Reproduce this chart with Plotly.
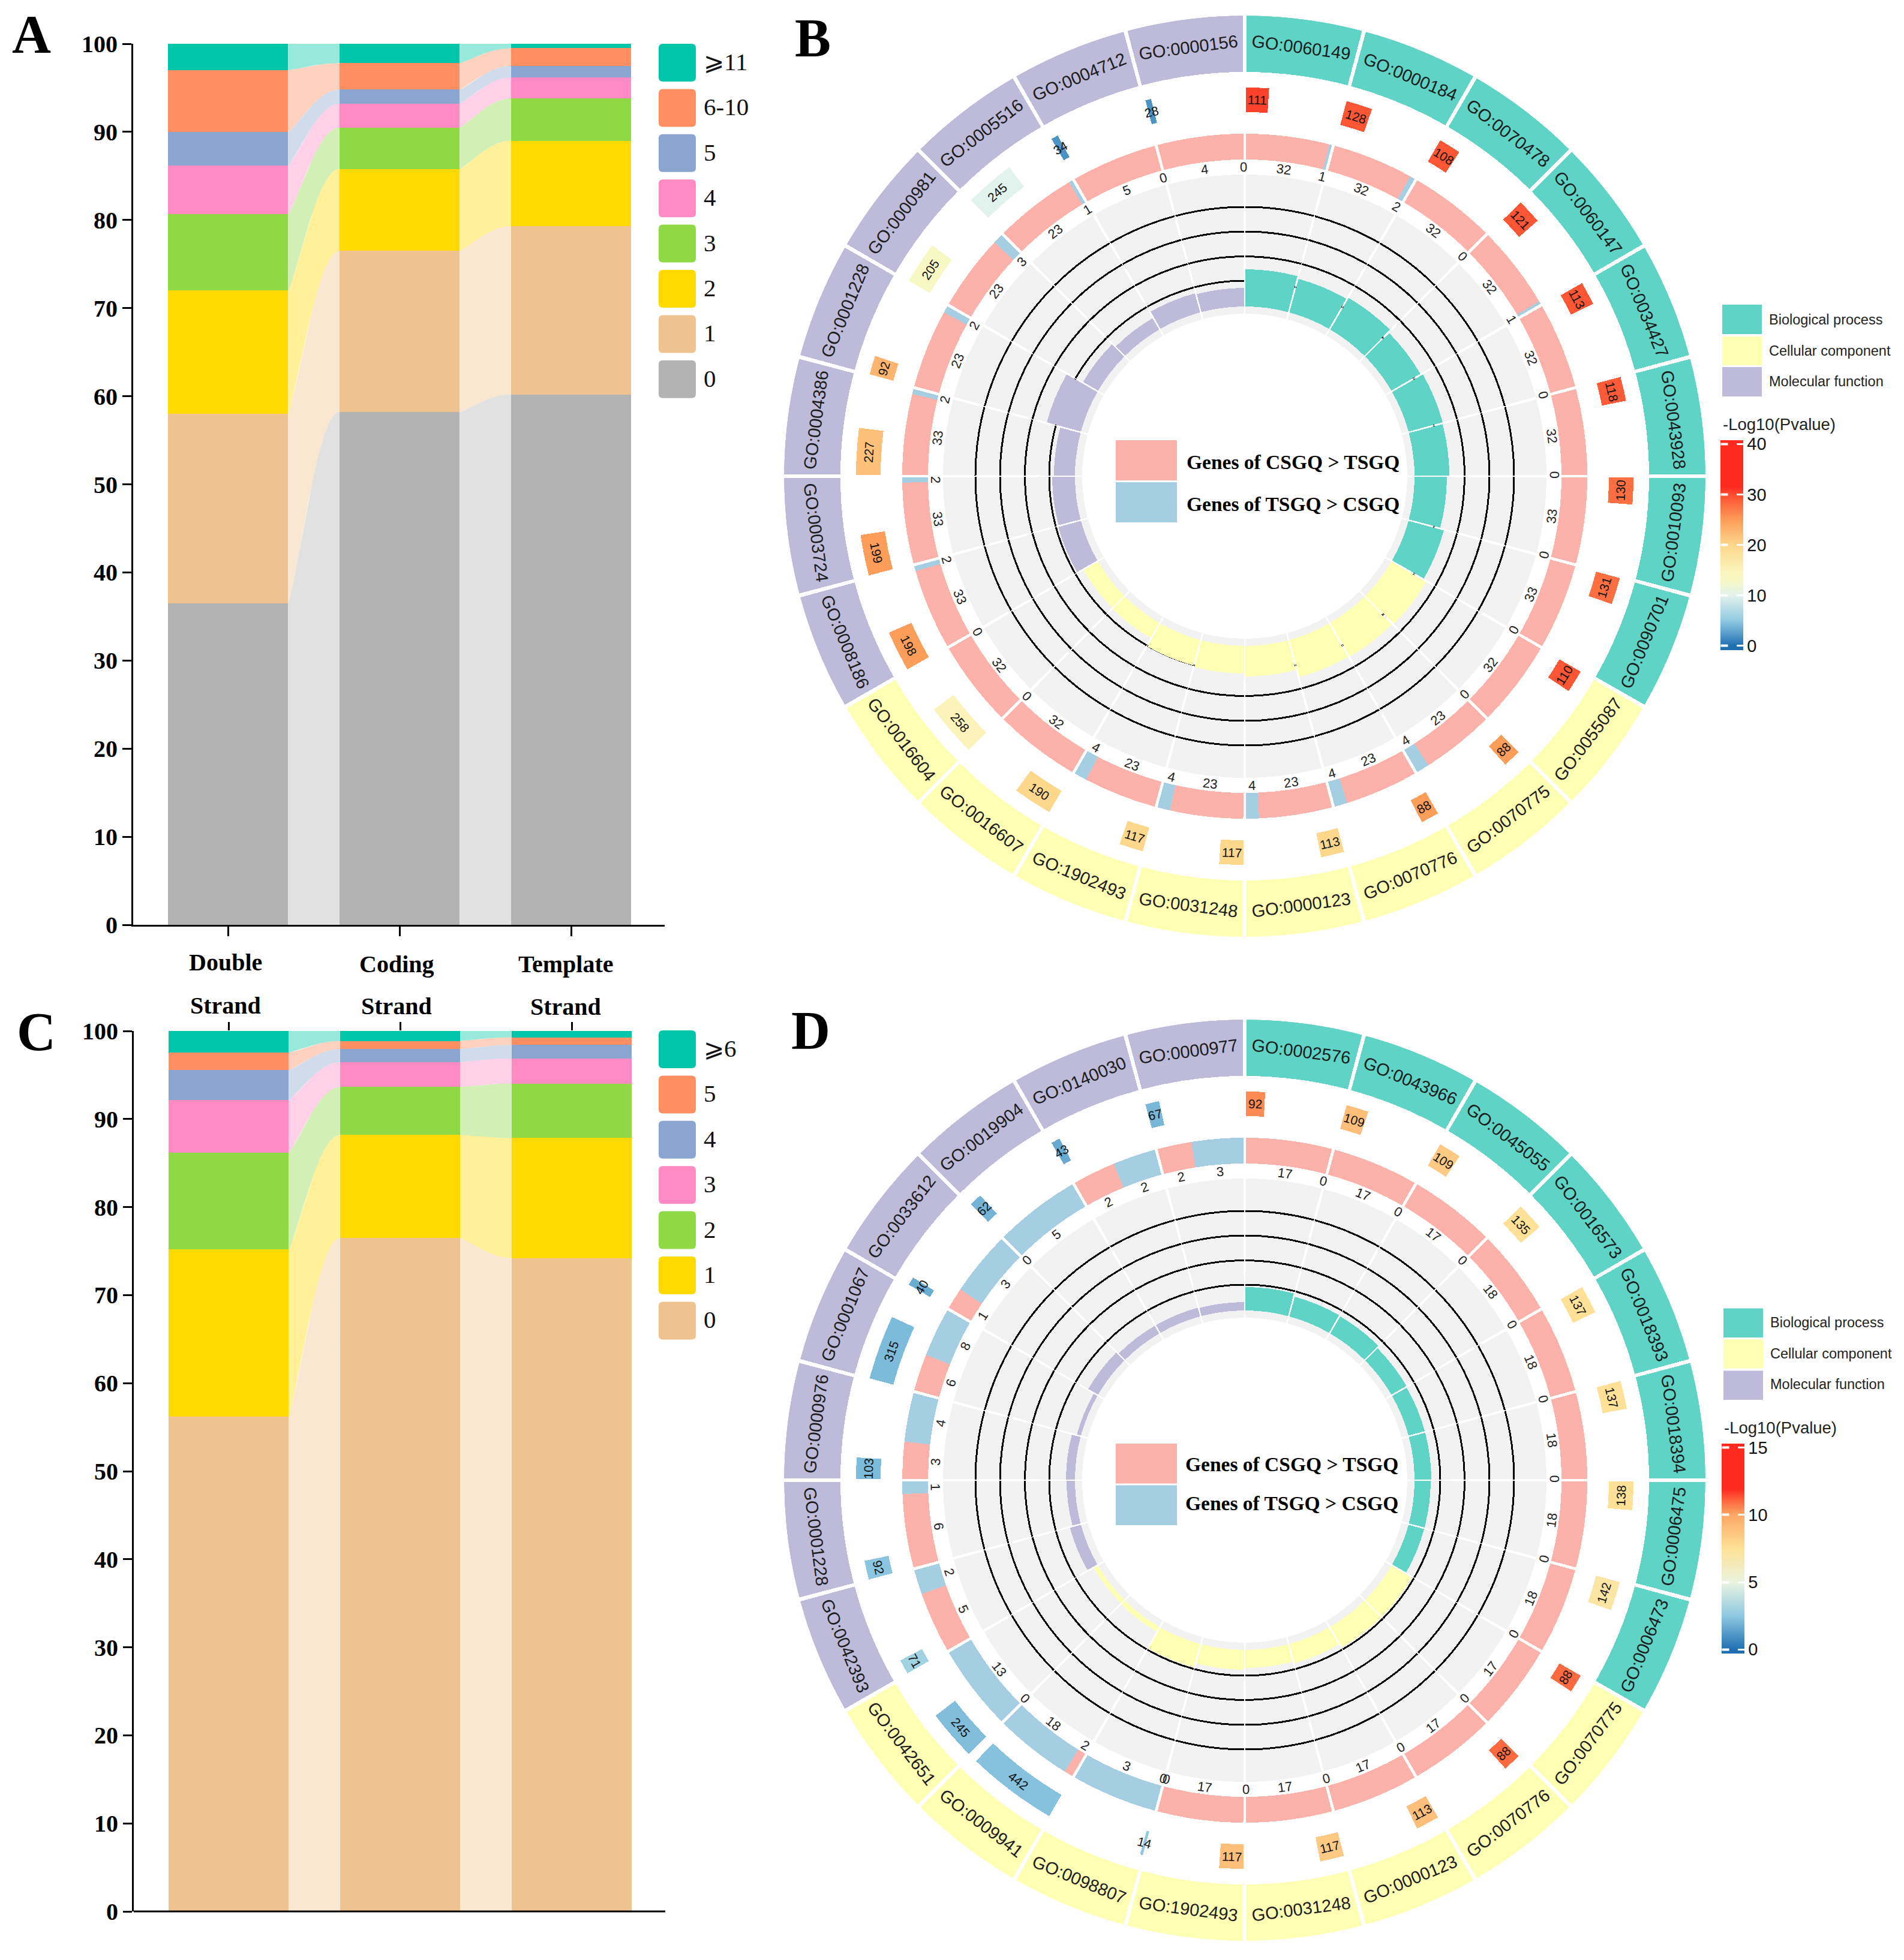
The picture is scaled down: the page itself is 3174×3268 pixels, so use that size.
import math
import numpy as np
import plotly.graph_objects as go

W, H = 3174, 3268
SERIF = "Liberation Serif"
SANS = "Liberation Sans"

# ---------- Panel A data (percent per strand) ----------
A_STRANDS = ["Double", "Coding", "Template"]
A_CLASSES = ["0", "1", "2", "3", "4", "5", "6-10", "⩾11"]
A_DOUBLE = [36.5, 21.5, 14.0, 8.7, 5.5, 3.8, 7.0, 3.0]
A_CODING = [58.2, 18.3, 9.3, 4.7, 2.7, 1.6, 3.0, 2.2]
A_TEMPLATE = [60.2, 19.1, 9.7, 4.8, 2.4, 1.3, 2.0, 0.5]
A_COLORS = ["#B3B3B3", "#EFC38F", "#FFD900", "#8FD945", "#FF8AC4", "#8AA5CF", "#FF8E62", "#00C5A8"]

# ---------- Panel C data ----------
C_CLASSES = ["0", "1", "2", "3", "4", "5", "⩾6"]
C_DOUBLE = [56.2, 19.0, 11.0, 5.95, 3.39, 1.99, 2.47]
C_CODING = [76.5, 11.7, 5.44, 2.81, 1.49, 0.93, 1.13]
C_TEMPLATE = [74.2, 13.65, 6.18, 2.87, 1.52, 0.86, 0.72]
C_COLORS = ["#EFC38F", "#FFD900", "#8FD945", "#FF8AC4", "#8AA5CF", "#FF8E62", "#00C5A8"]

# ---------- Panel B data (clockwise from 12 o'clock) ----------
B_TERMS = ["GO:0060149", "GO:0000184", "GO:0070478", "GO:0060147", "GO:0034427", "GO:0043928", "GO:0010093", "GO:0090701",
           "GO:0055087", "GO:0070775", "GO:0070776", "GO:0000123", "GO:0031248", "GO:1902493", "GO:0016607", "GO:0016604",
           "GO:0008186", "GO:0003724", "GO:0004386", "GO:0001228", "GO:0000981", "GO:0005516", "GO:0004712", "GO:0000156"]
B_COUNTS = [111, 128, 108, 121, 113, 118, 130, 131, 110, 88, 88, 113, 117, 117, 190, 258, 198, 199, 227, 92, 205, 245, 34, 28]
B_LOGP = [30.5, 29.5, 29.5, 29.5, 29.5, 29.2, 28, 28, 29.5, 25, 25, 20, 20, 20, 20, 15, 25, 25, 22, 23, 13, 10, 2, 2]
B_CSGQ = [32, 32, 32, 32, 32, 32, 33, 33, 32, 23, 23, 23, 23, 23, 32, 32, 33, 33, 33, 23, 23, 23, 5, 4]
B_TSGQ = [1, 2, 0, 1, 0, 0, 0, 0, 0, 4, 4, 4, 4, 4, 0, 0, 2, 2, 2, 2, 3, 1, 0, 0]
B_RATIO = [62, 58, 61, 56, 59, 58, 54, 61, 67, 65, 64, 51, 46, 44, 29, 28, 39, 38, 35, 59, 29, 22, 33, 31]

# ---------- Panel D data ----------
D_TERMS = ["GO:0002576", "GO:0043966", "GO:0045055", "GO:0016573", "GO:0018393", "GO:0018394", "GO:0006475", "GO:0006473",
           "GO:0070775", "GO:0070776", "GO:0000123", "GO:0031248", "GO:1902493", "GO:0098807", "GO:0009941", "GO:0042651",
           "GO:0042393", "GO:0001228", "GO:0000976", "GO:0001067", "GO:0033612", "GO:0019904", "GO:0140030", "GO:0000977"]
D_COUNTS = [92, 109, 109, 135, 137, 137, 138, 142, 88, 88, 113, 117, 117, 14, 442, 245, 71, 92, 103, 315, 40, 62, 43, 67]
D_LOGP = [10.5, 9, 8.5, 7.5, 7.5, 7.5, 7.5, 7, 11, 11, 9, 8.5, 9, 2.5, 2.3, 2.2, 3, 2.4, 2.1, 2.1, 1.7, 1.9, 1.6, 2.0]
D_CSGQ = [17, 17, 17, 18, 18, 18, 18, 18, 17, 17, 17, 17, 17, 0, 2, 0, 5, 6, 3, 6, 1, 0, 2, 2]
D_TSGQ = [0, 0, 0, 0, 0, 0, 0, 0, 0, 0, 0, 0, 0, 3, 18, 13, 2, 1, 4, 8, 3, 5, 2, 3]
D_RATIO = [39, 34, 33, 29, 28, 28, 27, 27, 39, 39, 33, 30, 33, 40, 9, 8, 19, 14, 15, 7, 19, 15, 15, 14]

GROUP_NAMES = ["Biological process", "Cellular component", "Molecular function"]
GROUP_COLORS = ["#5FD4C6", "#FFFFB3", "#BEBADA"]
PINK, BLUE, GREY = "#FDB1AB", "#A6CEE3", "#F2F2F2"
LEGEND_CENTER = ["Genes of CSGQ &gt; TSGQ", "Genes of TSGQ &gt; CSGQ"]

B_STOPS = [(0, "#1f6fb2"), (5, "#8fc9e2"), (10, "#e2f2ec"), (13, "#f8f8c4"), (15, "#fbf3ba"), (20, "#fdd78c"), (25, "#fd9d5a"),
           (30, "#fd4e30"), (31.5, "#fe2a20"), (40, "#fe2a20")]
D_STOPS = [(0, "#1f6fb2"), (2.5, "#8fc9e2"), (5, "#eaf4e0"), (7.5, "#fee196"), (10, "#fda766"), (11.0, "#fd6a40"),
           (11.9, "#fe2a20"), (15, "#fe2a20")]

# ---------- helpers ----------
fig = go.Figure()
shapes, annots = [], []


def fx(px):
    return px / W


def fy(py):
    return 1 - py / H


def text(px, py, s, size, family=SANS, bold=False, anchor="center", angle=0, color="#111111"):
    annots.append(dict(x=fx(px), y=fy(py), xref="paper", yref="paper", text=f"<b>{s}</b>" if bold else s,
                       showarrow=False, xanchor=anchor, yanchor="middle", textangle=angle,
                       font=dict(family=family, size=size, color=color)))


def rect(x0, y0, x1, y1, color):
    shapes.append(dict(type="rect", xref="paper", yref="paper", x0=fx(x0), x1=fx(x1), y0=fy(y0), y1=fy(y1),
                       fillcolor=color, line_width=0, layer="above"))


def round_rect(x0, y0, x1, y1, color, rad=7):
    a, b, c, d = fx(x0), fx(x1), fy(y0), fy(y1)
    rx, ry = rad / W, rad / H
    path = (f"M{a+rx},{c} L{b-rx},{c} Q{b},{c} {b},{c-ry} L{b},{d+ry} Q{b},{d} {b-rx},{d} "
            f"L{a+rx},{d} Q{a},{d} {a},{d+ry} L{a},{c-ry} Q{a},{c} {a+rx},{c} Z")
    shapes.append(dict(type="path", xref="paper", yref="paper", path=path, fillcolor=color, line_width=0))


def blend(hexcol, alpha):
    r, g, b = int(hexcol[1:3], 16), int(hexcol[3:5], 16), int(hexcol[5:7], 16)
    return f"rgba({r},{g},{b},{alpha})"


def stacked_panel(n, cols, classes, colors, leg_y0):
    xa, ya = ("x", "y") if n == 1 else (f"x{n}", f"y{n}")
    cols = [np.array(c, dtype=float) for c in cols]
    tops = [np.cumsum(c) for c in cols]
    bw = 0.70
    t = np.linspace(0, 1, 60)
    s = t ** 0.7
    s = 3 * s * s - 2 * s ** 3
    for j in range(2):
        x = j + bw / 2 + t * (1 - bw)
        for i, col in enumerate(colors):
            low_a = tops[j][i - 1] if i else 0
            low_b = tops[j + 1][i - 1] if i else 0
            up = tops[j][i] + (tops[j + 1][i] - tops[j][i]) * s
            lo = low_a + (low_b - low_a) * s
            fig.add_trace(go.Scatter(x=np.r_[x, x[::-1]], y=np.r_[up, lo[::-1]], mode="lines", line=dict(width=0),
                                     fill="toself", fillcolor=blend(col, 0.4), xaxis=xa, yaxis=ya,
                                     hoverinfo="skip", showlegend=False))
    for i, col in enumerate(colors):
        fig.add_trace(go.Bar(x=[0, 1, 2], y=[c[i] for c in cols], width=bw, marker=dict(color=col, line_width=0),
                             name=classes[i], xaxis=xa, yaxis=ya, showlegend=False))
    # legend, top to bottom
    for k, i in enumerate(range(len(classes) - 1, -1, -1)):
        y0 = leg_y0 + k * 75.4
        round_rect(1098, y0, 1160, y0 + 63, colors[i])
        text(1171, y0 + 30, classes[i], 41, SERIF, anchor="left")


def circle_panel(n, cx, cy, terms, counts, logp, csgq, tsgq, ratio, stops, ticks, leg, cb):
    R = 768
    sid = f"polar{n}"
    step = 15.0
    starts = np.arange(24) * step
    mids = starts + step / 2
    grp = [GROUP_COLORS[i // 8] for i in range(24)]

    def bar(theta, r, base, width, color):
        fig.add_trace(go.Barpolar(theta=theta, r=r, base=base, width=width, marker=dict(color=color, line_width=0),
                                  subplot=sid, hoverinfo="skip", showlegend=False))

    # grey background
    bar(mids, [503 - 271] * 24, [271] * 24, [step - 0.5] * 24, GREY)
    # black guide circles
    for rr in (326, 366.5, 408, 449):
        bar(mids, [3.0] * 24, [rr - 1.5] * 24, [step - 0.2] * 24, "#000000")
    # inner bars
    bar(mids, ratio, [283] * 24, [step - 0.5] * 24, grp)
    # CSGQ / TSGQ ring
    gap = 0.5
    usable = step - gap
    tot = np.array(csgq, float) + np.array(tsgq, float)
    f = np.array(csgq) / tot
    red_w = usable * f
    blu_w = usable * (1 - f)
    ini = starts + gap / 2
    keep = red_w > 0
    bar((ini + red_w / 2)[keep], [43] * int(keep.sum()), [528] * int(keep.sum()), red_w[keep], PINK)
    keep = blu_w > 0
    bar((ini + red_w + blu_w / 2)[keep], [43] * int(keep.sum()), [528] * int(keep.sum()), blu_w[keep], BLUE)
    # heat bars: angular width proportional to gene count
    span = np.array(counts) * 0.0306
    lo, hi = cb["lo"], cb["hi"]
    colorscale = [[0, stops[0][1]]] + [[(v - lo) / (hi - lo), c] for v, c in stops] + [[1, stops[-1][1]]]
    fig.add_trace(go.Barpolar(theta=starts + 0.2 + span / 2, r=[41] * 24, base=[607] * 24, width=span,
                              marker=dict(color=logp, cmin=lo, cmax=hi, colorscale=colorscale, line_width=0,
                                          showscale=True,
                                          colorbar=dict(x=fx(cb["x"]), xanchor="left", y=fy(cb["y"]), yanchor="top",
                                                        xpad=0, ypad=0, thicknessmode="pixels", thickness=38,
                                                        lenmode="pixels", len=cb["len"], outlinewidth=0,
                                                        tickmode="array", tickvals=ticks, ticktext=[str(v) for v in ticks],
                                                        ticks="inside", ticklen=11, tickwidth=3, tickcolor="white",
                                                        tickfont=dict(family=SANS, size=29, color="#111111"))),
                              subplot=sid, hoverinfo="skip", showlegend=False))
    # white dashes on the left side of the colour bar
    for v in ticks:
        yy = cb["y"] + cb["len"] * (hi - v) / (hi - lo)
        annots.append(dict(x=fx(cb["x"]), y=fy(yy), xref="paper", yref="paper", text="&nbsp;", showarrow=False,
                           xanchor="left", yanchor="middle", width=11, height=3, borderpad=0, bgcolor="white",
                           font=dict(size=1)))
    # outer term ring
    bar(mids, [768 - 674] * 24, [674] * 24, [step - 0.5] * 24, grp)

    def place(theta, rad):
        a = math.radians(theta)
        return cx + rad * math.sin(a), cy - rad * math.cos(a)

    def ang(theta):
        theta = theta % 360
        if theta <= 90:
            return theta
        if theta >= 270:
            return theta - 360
        return theta - 180

    for i in range(24):
        px, py = place(mids[i], 721)
        text(px, py, terms[i], 29, angle=ang(mids[i]), color="#1c1c1c")
        th = starts[i] + 0.2 + span[i] / 2
        px, py = place(th, 627.5)
        text(px, py, str(counts[i]), 21, angle=ang(th), color="#111111")
        th = ini[i] + red_w[i] / 2
        px, py = place(th, 516)
        text(px, py, str(csgq[i]), 22, angle=ang(th), color="#222222")
        th = ini[i] + red_w[i] + blu_w[i] / 2
        px, py = place(th, 516)
        text(px, py, str(tsgq[i]), 22, angle=ang(th), color="#222222")

    fig.layout[sid] = dict(domain=dict(x=[(cx - R) / W, (cx + R) / W], y=[1 - (cy + R) / H, 1 - (cy - R) / H]),
                           bgcolor="rgba(0,0,0,0)", barmode="overlay",
                           radialaxis=dict(visible=False, range=[0, R]),
                           angularaxis=dict(visible=False, direction="clockwise", rotation=90, thetaunit="degrees"))

    # centre legend
    for (y0, y1), c, tx, s in zip(leg["rects"], (PINK, BLUE), leg["texts"], LEGEND_CENTER):
        rect(1860, y0, 1962, y1, c)
        text(leg["tx"], tx, s, 33.5, SERIF, bold=True, anchor="left", color="#000000")
    # GO class legend
    for (y0, y1), c, tx, s in zip(leg["grect"], GROUP_COLORS, leg["gtext"], GROUP_NAMES):
        rect(leg["gx"], y0, leg["gx"] + 66, y1, c)
        text(leg["gx"] + 76, tx, s, 23.5, anchor="left", color="#222222")
    text(leg["gx"] - 1, leg["ty"], "-Log10(Pvalue)", 27.5, anchor="left", color="#222222")


stacked_panel(1, [A_DOUBLE, A_CODING, A_TEMPLATE], A_CLASSES, A_COLORS, 73)
stacked_panel(2, [C_DOUBLE, C_CODING, C_TEMPLATE], C_CLASSES, C_COLORS, 1718)

circle_panel(3, 2075, 794, B_TERMS, B_COUNTS, B_LOGP, B_CSGQ, B_TSGQ, B_RATIO, B_STOPS, [0, 10, 20, 30, 40],
             dict(rects=[(734, 801), (804, 871)], texts=[771, 840], tx=1976,
                  grect=[(508, 557), (561, 609), (612, 661)], gtext=[532.6, 585, 636], gx=2871, ty=707),
             dict(x=2868, y=733.5, len=350, lo=-0.8, hi=40.8))
circle_panel(4, 2075, 2468, D_TERMS, D_COUNTS, D_LOGP, D_CSGQ, D_TSGQ, D_RATIO, D_STOPS, [0, 5, 10, 15],
             dict(rects=[(2407, 2473.6), (2476.4, 2543)], texts=[2441.5, 2506], tx=1973.5,
                  grect=[(2181.6, 2230), (2233, 2281.6), (2285.6, 2334)], gtext=[2204.5, 2256.7, 2308], gx=2873, ty=2380),
             dict(x=2870, y=2407, len=350, lo=-0.3, hi=15.3))

# ---------- cartesian axes ----------
U = 286.0
axis_font = dict(family=SERIF, size=40, color="#000000", weight="bold")


def xr(x0, x1, c0):
    return [(x0 - c0) / U, (x1 - c0) / U]


common_y = dict(range=[0, 100], tickmode="array", tickvals=list(range(0, 101, 10)), ticks="outside", ticklen=15, tickwidth=3,
                tickcolor="#000", showline=True, linecolor="#000", linewidth=3, showgrid=False, zeroline=False,
                tickfont=axis_font)
fig.update_layout(
    xaxis=dict(domain=[222 / W, 1108 / W], range=xr(222, 1108, 380), tickmode="array", tickvals=[0, 1, 2], ticktext=["", "", ""],
               ticks="outside", ticklen=16, tickwidth=3, tickcolor="#000", showline=True, linecolor="#000", linewidth=3,
               showgrid=False, zeroline=False, anchor="y"),
    yaxis=dict(domain=[1 - 1542 / H, 1 - 73 / H], anchor="x", **common_y),
    xaxis2=dict(domain=[223 / W, 1109 / W], range=xr(223, 1109, 381), tickmode="array", tickvals=[0, 1, 2], ticktext=["", "", ""],
                side="top", ticks="outside", ticklen=14, tickwidth=3, tickcolor="#000", showline=False, showgrid=False,
                zeroline=False, anchor="y2"),
    yaxis2=dict(domain=[1 - 3187 / H, 1 - 1719 / H], anchor="x2", **common_y),
)
shapes.append(dict(type="line", xref="paper", yref="paper", x0=fx(223), x1=fx(1109), y0=fy(3187), y1=fy(3187),
                   line=dict(color="#000", width=3)))

# strand labels under panel A
for s, x, y in zip(A_STRANDS, (376, 661, 943), (1604, 1607, 1608)):
    text(x, y, s, 40, SERIF, bold=True, color="#000000")
for x, y in zip((376, 661, 943), (1676, 1677, 1678)):
    text(x, y, "Strand", 40, SERIF, bold=True, color="#000000")

# panel letters
for s, x, y in (("A", 52, 58), ("B", 1355, 64), ("C", 60, 1720), ("D", 1351, 1718)):
    text(x, y, s, 90, SERIF, bold=True, color="#000000")

fig.update_layout(width=W, height=H, margin=dict(l=0, r=0, t=0, b=0, autoexpand=False), autosize=False,
                  paper_bgcolor="white", plot_bgcolor="white", barmode="stack", showlegend=False,
                  shapes=shapes, annotations=annots)
fig.write_html("out.html", config={"displayModeBar": False}, post_script="document.body.style.margin='0';")
